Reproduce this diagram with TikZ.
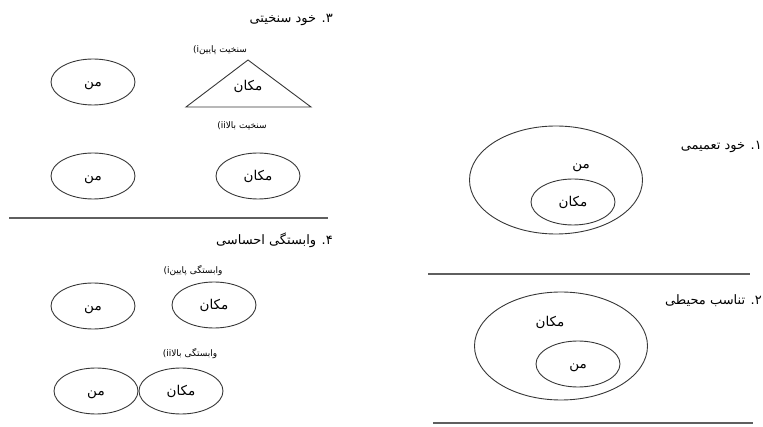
\documentclass[tikz,border=0pt]{standalone}
\usepackage{fontspec}
\usetikzlibrary{shapes.geometric,positioning}
\TeXXeTstate=1
\newfontfamily\arabicfont[Script=Arabic]{DejaVu Sans}
\definecolor{c1}{RGB}{55,55,55}
\definecolor{c2}{RGB}{95,95,95}
\newcommand{\fa}[1]{\beginR #1\endR}
\newcommand{\fb}[1]{\raisebox{-4.5pt}[0pt][0pt]{\beginR #1\endR}}

\tikzset{
  blob/.style={draw=c1,line width=0.9pt,ellipse,minimum width=84pt,minimum height=46pt,
               inner sep=0pt,font=\arabicfont\fontsize{13.5}{15}\selectfont},
  bigblob/.style={blob,minimum width=173pt,minimum height=108pt},
  ttl/.style={anchor=east,inner sep=0pt,font=\arabicfont\fontsize{13}{15}\selectfont},
  word/.style={inner sep=0pt,font=\arabicfont\fontsize{13.5}{15}\selectfont},
  subcap/.style={inner sep=0pt,font=\arabicfont\fontsize{9}{10}\selectfont},
  sepline/.style={draw=c2,line width=1.5pt},
}

\begin{document}
\begin{tikzpicture}[x=1pt,y=-1pt]
  \useasboundingbox (0,0) rectangle (763,427);

  % 3
  \node[ttl] (t3) at (333,20) {\fa{۳. خود سنخیتی}};
  \node[subcap] (c3a) at (220,50) {(i\fa{سنخیت پایین}};
  \node[blob] (me3a) at (93,82) {\fb{من}};
  \coordinate (tp) at (248,60);
  \coordinate (tl) at (186,107);
  \coordinate (tr) at (311,107);
  \draw[c1,line width=0.9pt] (tp) -- (tl) -- (tr) -- cycle;
  \node[word] (pl3a) at (248,86) {\fb{مکان}};
  \node[subcap] (c3b) at (242,126) {(ii\fa{سنخیت بالا}};
  \node[blob] (me3b) at (93,176) {\fb{من}};
  \node[blob] (pl3b) at (258,176) {\fb{مکان}};
  \draw[sepline] (9,218) -- (328,218);

  % 4
  \node[ttl] (t4) at (333,240) {\fa{۴. وابستگی احساسی}};
  \node[subcap] (c4a) at (193,271) {(i\fa{وابستگی پایین}};
  \node[blob] (me4a) at (93,306) {\fb{من}};
  \node[blob] (pl4a) at (214,305) {\fb{مکان}};
  \node[subcap] (c4b) at (190,354) {(ii\fa{وابستگی بالا}};
  \node[blob] (me4b) at (96,391) {\fb{من}};
  \node[blob] (pl4b) at (181,391) {\fb{مکان}};

  % 1
  \node[ttl] (t1) at (762,147) {\fa{۱. خود تعمیمی}};
  \node[bigblob] (me1) at (556,180) {};
  \node[word] (me1txt) at (581,164) {\fb{من}};
  \node[blob] (pl1) at (573,202) {\fb{مکان}};
  \draw[sepline] (428,274) -- (750,274);

  % 2
  \node[ttl] (t2) at (762,301) {\fa{۲. تناسب محیطی}};
  \node[bigblob] (pl2) at (561,346) {};
  \node[word] (pl2txt) at (550,322) {\fb{مکان}};
  \node[blob] (me2) at (578,364) {\fb{من}};
  \draw[sepline] (433,423) -- (753,423);
\end{tikzpicture}
\end{document}
